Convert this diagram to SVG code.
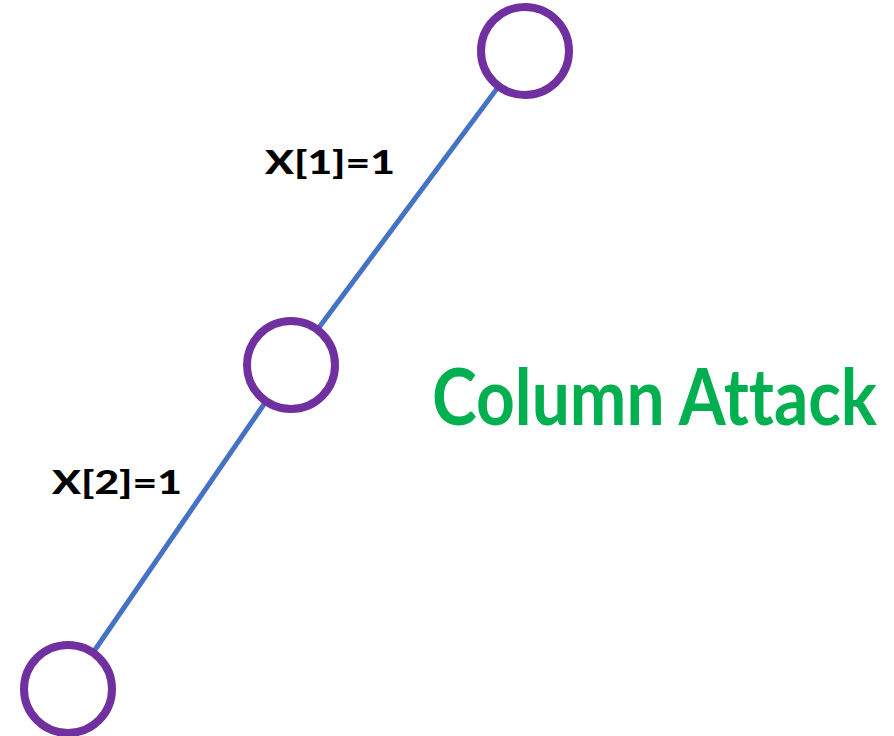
<svg xmlns="http://www.w3.org/2000/svg" width="894" height="736" viewBox="0 0 894 736">
<style>
.node{fill:#fff;stroke:#7030A0;stroke-width:8}
.edge{stroke:#4472C4;stroke-width:5;fill:none}
.lbl{font-family:Lato,"Liberation Sans",sans-serif;font-weight:900;fill:#000;font-size:33px;font-variant-ligatures:none}
.title{font-family:Lato,"Liberation Sans",sans-serif;font-weight:bold;fill:#00B050;font-size:68px;font-variant-ligatures:none}
</style>
<rect width="894" height="736" fill="#fff"/>
<g id="connectors">
<line class="edge" x1="525" y1="51" x2="291" y2="365"/>
<line class="edge" x1="291" y1="365" x2="68" y2="689"/>
</g>
<g id="n1"><circle class="node" cx="525" cy="51" r="44"/></g>
<g id="n2"><circle class="node" cx="291" cy="365" r="44"/></g>
<g id="n3"><circle class="node" cx="68" cy="689" r="44"/></g>
<text class="lbl" x="265" y="174" textLength="130" lengthAdjust="spacingAndGlyphs">X[1]=1</text>
<text class="lbl" x="52" y="494" textLength="130" lengthAdjust="spacingAndGlyphs">X[2]=1</text>
<text class="title" transform="translate(432 425) scale(1 1.15)" x="0" y="0" textLength="445" lengthAdjust="spacingAndGlyphs">Column Attack</text>
</svg>
